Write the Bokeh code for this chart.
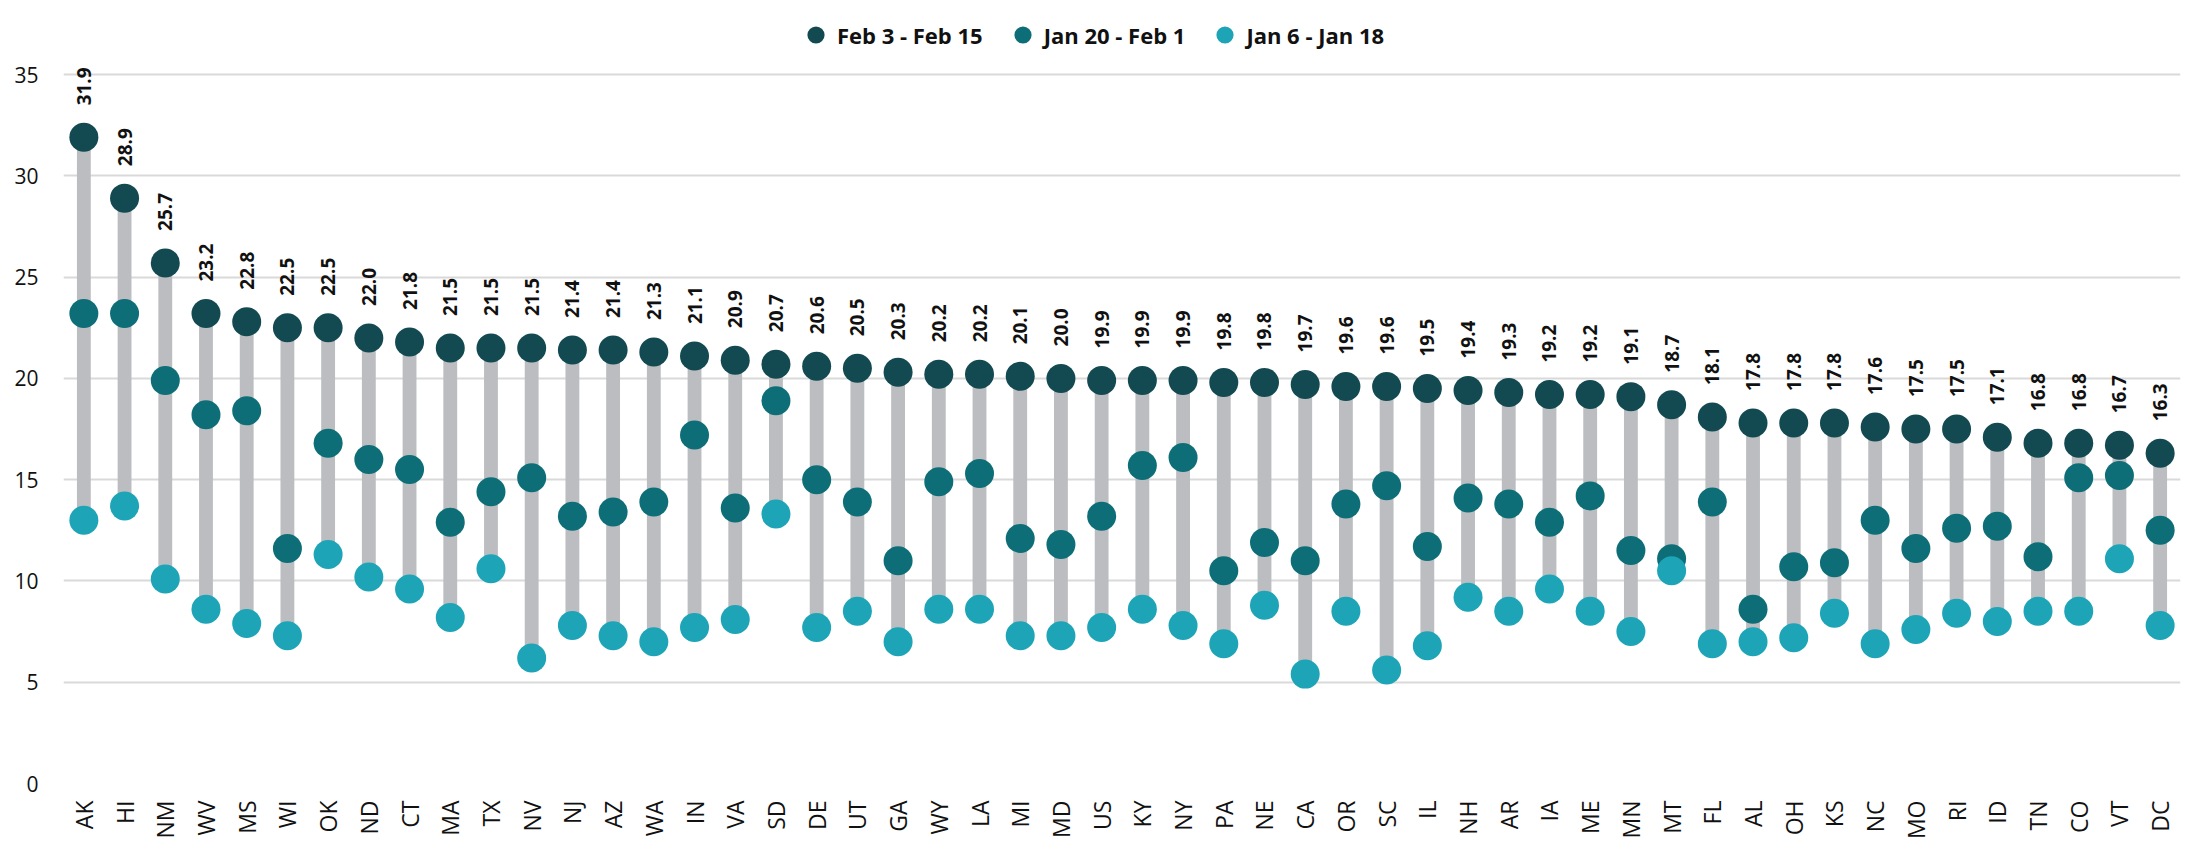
import math
from bokeh.plotting import figure
from bokeh.models import ColumnDataSource, Range1d, FixedTicker, Legend, LegendItem
from bokeh.core.properties import value
from bokeh.embed import file_html
from bokeh.resources import INLINE

states = ["AK", "HI", "NM", "WV", "MS", "WI", "OK", "ND", "CT", "MA", "TX", "NV", "NJ",
          "AZ", "WA", "IN", "VA", "SD", "DE", "UT", "GA", "WY", "LA", "MI", "MD", "US",
          "KY", "NY", "PA", "NE", "CA", "OR", "SC", "IL", "NH", "AR", "IA", "ME", "MN",
          "MT", "FL", "AL", "OH", "KS", "NC", "MO", "RI", "ID", "TN", "CO", "VT", "DC"]

feb3_feb15 = [31.9, 28.9, 25.7, 23.2, 22.8, 22.5, 22.5, 22.0, 21.8, 21.5, 21.5, 21.5, 21.4,
              21.4, 21.3, 21.1, 20.9, 20.7, 20.6, 20.5, 20.3, 20.2, 20.2, 20.1, 20.0, 19.9,
              19.9, 19.9, 19.8, 19.8, 19.7, 19.6, 19.6, 19.5, 19.4, 19.3, 19.2, 19.2, 19.1,
              18.7, 18.1, 17.8, 17.8, 17.8, 17.6, 17.5, 17.5, 17.1, 16.8, 16.8, 16.7, 16.3]

jan20_feb1 = [23.2, 23.2, 19.9, 18.2, 18.4, 11.6, 16.8, 16.0, 15.5, 12.9, 14.4, 15.1, 13.2,
              13.4, 13.9, 17.2, 13.6, 18.9, 15.0, 13.9, 11.0, 14.9, 15.3, 12.1, 11.8, 13.2,
              15.7, 16.1, 10.5, 11.9, 11.0, 13.8, 14.7, 11.7, 14.1, 13.8, 12.9, 14.2, 11.5,
              11.1, 13.9, 8.6, 10.7, 10.9, 13.0, 11.6, 12.6, 12.7, 11.2, 15.1, 15.2, 12.5]

jan6_jan18 = [13.0, 13.7, 10.1, 8.6, 7.9, 7.3, 11.3, 10.2, 9.6, 8.2, 10.6, 6.2, 7.8,
              7.3, 7.0, 7.7, 8.1, 13.3, 7.7, 8.5, 7.0, 8.6, 8.6, 7.3, 7.3, 7.7,
              8.6, 7.8, 6.9, 8.8, 5.4, 8.5, 5.6, 6.8, 9.2, 8.5, 9.6, 8.5, 7.5,
              10.5, 6.9, 7.0, 7.2, 8.4, 6.9, 7.6, 8.4, 8.0, 8.5, 8.5, 11.1, 7.8]

series_names = ["Feb 3 - Feb 15", "Jan 20 - Feb 1", "Jan 6 - Jan 18"]
y_ticks = [0, 5, 10, 15, 20, 25, 30, 35]

DARK = "#134a52"
MID = "#0e6e78"
LIGHT = "#1da4b7"
BAR = "#bcbdc1"
GRID = "#d9d9d9"

lo = [min(a, b, c) for a, b, c in zip(feb3_feb15, jan20_feb1, jan6_jan18)]
hi = [max(a, b, c) for a, b, c in zip(feb3_feb15, jan20_feb1, jan6_jan18)]
px_per_unit = 709 / 35.0
label_y = [v + 32 / px_per_unit for v in feb3_feb15]

src = ColumnDataSource(dict(
    state=states, feb=feb3_feb15, jan20=jan20_feb1, jan6=jan6_jan18,
    lo=lo, hi=hi, label_y=label_y, label=[f"{v:.1f}" for v in feb3_feb15],
))

p = figure(x_range=states, y_range=Range1d(0, 38.41), width=2195, height=844,
           output_backend="svg", toolbar_location=None,
           min_border_left=63, min_border_right=15, min_border_top=5, min_border_bottom=61)
p.outline_line_color = None
p.background_fill_color = "white"
p.border_fill_color = "white"

p.xgrid.grid_line_color = None
p.ygrid.grid_line_color = GRID
p.ygrid.grid_line_width = 2
p.yaxis.ticker = FixedTicker(ticks=y_ticks)

for ax in (p.xaxis, p.yaxis):
    ax.axis_line_color = None
    ax.major_tick_line_color = None
    ax.minor_tick_line_color = None
    ax.major_tick_out = 0
    ax.major_tick_in = 0
    ax.minor_tick_out = 0
    ax.minor_tick_in = 0
    ax.major_label_text_font = "Open Sans"
    ax.major_label_text_color = "#111111"

p.yaxis.major_label_text_font_size = "21px"
p.xaxis.major_label_text_font_size = "23px"
p.yaxis.major_label_standoff = 25
p.xaxis.major_label_standoff = 17
p.xaxis.major_label_orientation = math.pi / 2

p.vbar(x="state", bottom="lo", top="hi", width=0.34, source=src,
       fill_color=BAR, line_color=None)

r1 = p.scatter(x="state", y="feb", size=29, source=src, fill_color=DARK, line_color=None)
r2 = p.scatter(x="state", y="jan20", size=29, source=src, fill_color=MID, line_color=None)
r3 = p.scatter(x="state", y="jan6", size=29, source=src, fill_color=LIGHT, line_color=None)

p.text(x="state", y="label_y", text="label", source=src, angle=math.pi / 2,
       text_align="left", text_baseline="middle",
       text_font=value("Open Sans"), text_font_style="bold",
       text_font_size="19px", text_color="#111111")

legend = Legend(items=[LegendItem(label=series_names[0], renderers=[r1]),
                       LegendItem(label=series_names[1], renderers=[r2]),
                       LegendItem(label=series_names[2], renderers=[r3])],
                orientation="horizontal", location=(731, 727),
                glyph_width=43, glyph_height=43, label_standoff=-4, spacing=18,
                padding=0, margin=0, border_line_color=None, background_fill_alpha=0,
                label_text_font="Open Sans", label_text_font_style="bold",
                label_text_font_size="22px", label_text_color="#111111")
p.add_layout(legend)

open("out.html", "w").write(file_html(p, INLINE))
